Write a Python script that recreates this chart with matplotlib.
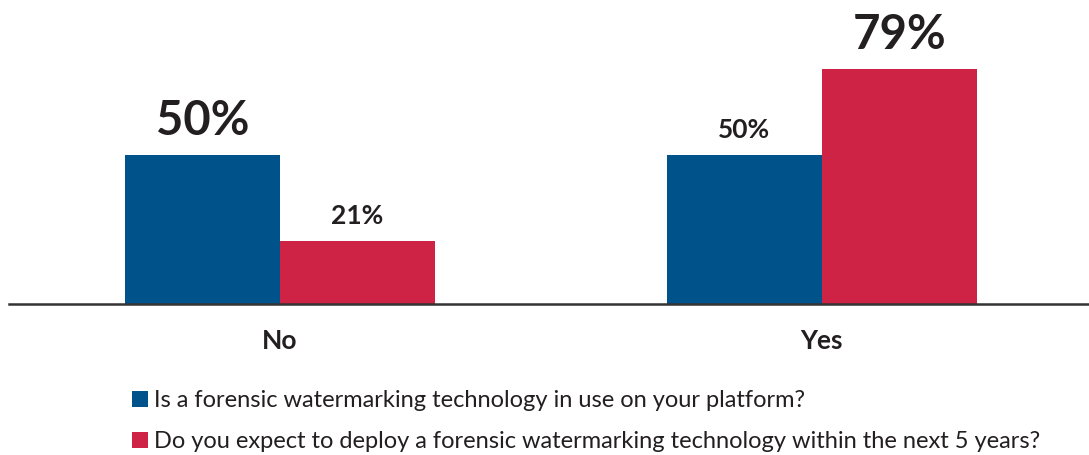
import matplotlib.pyplot as plt
import numpy as np

plt.rcParams['font.family'] = ['Lato', 'DejaVu Sans']

categories = ['No', 'Yes']
series_names = ['Is a forensic watermarking technology in use on your platform?',
                'Do you expect to deploy a forensic watermarking technology within the next 5 years?']
in_use = [50, 50]
expect_deploy = [21, 79]
colors = ['#00528A', '#CF2346']

fig = plt.figure(figsize=(10.89, 4.55), dpi=100)
ax = fig.add_axes([9 / 1089, 1 - 304 / 455, 1 - 9 / 1089, 304 / 455])

x = np.arange(len(categories))
w = 0.286
b1 = ax.bar(x - w / 2, in_use, w, color=colors[0], label=series_names[0])
b2 = ax.bar(x + w / 2, expect_deploy, w, color=colors[1], label=series_names[1])

# the larger value in each group gets the big label
for i in range(len(categories)):
    vals = [in_use[i], expect_deploy[i]]
    big = int(np.argmax(vals))
    for j, (off, v) in enumerate(zip([-w / 2, w / 2], vals)):
        size = 34 if j == big else 19
        pad = 4.0 if j == big else 4.4
        ax.text(x[i] + off, v + pad, f'{v}%', ha='center', va='bottom',
                fontsize=size, fontweight='bold', color='#231F20')

ax.set_xlim(-0.5, 1.493)
ax.set_ylim(0, 102)
for s in ['top', 'right', 'left']:
    ax.spines[s].set_visible(False)
ax.spines['bottom'].set_color('#333333')
ax.spines['bottom'].set_linewidth(1.8)
ax.set_yticks([])
ax.set_xticks(x)
ax.set_xticklabels(categories, fontsize=19, fontweight='bold', color='#231F20')
ax.tick_params(axis='x', length=0, pad=18)

fig.legend(handles=[b1, b2], loc='upper left', bbox_to_anchor=(111 / 1089, 1 - 369 / 455),
           frameon=False, fontsize=17, handlelength=0.65, handleheight=0.65,
           handletextpad=0.25, labelspacing=0.85, labelcolor='#231F20')

fig.savefig('out.png', dpi=100)
